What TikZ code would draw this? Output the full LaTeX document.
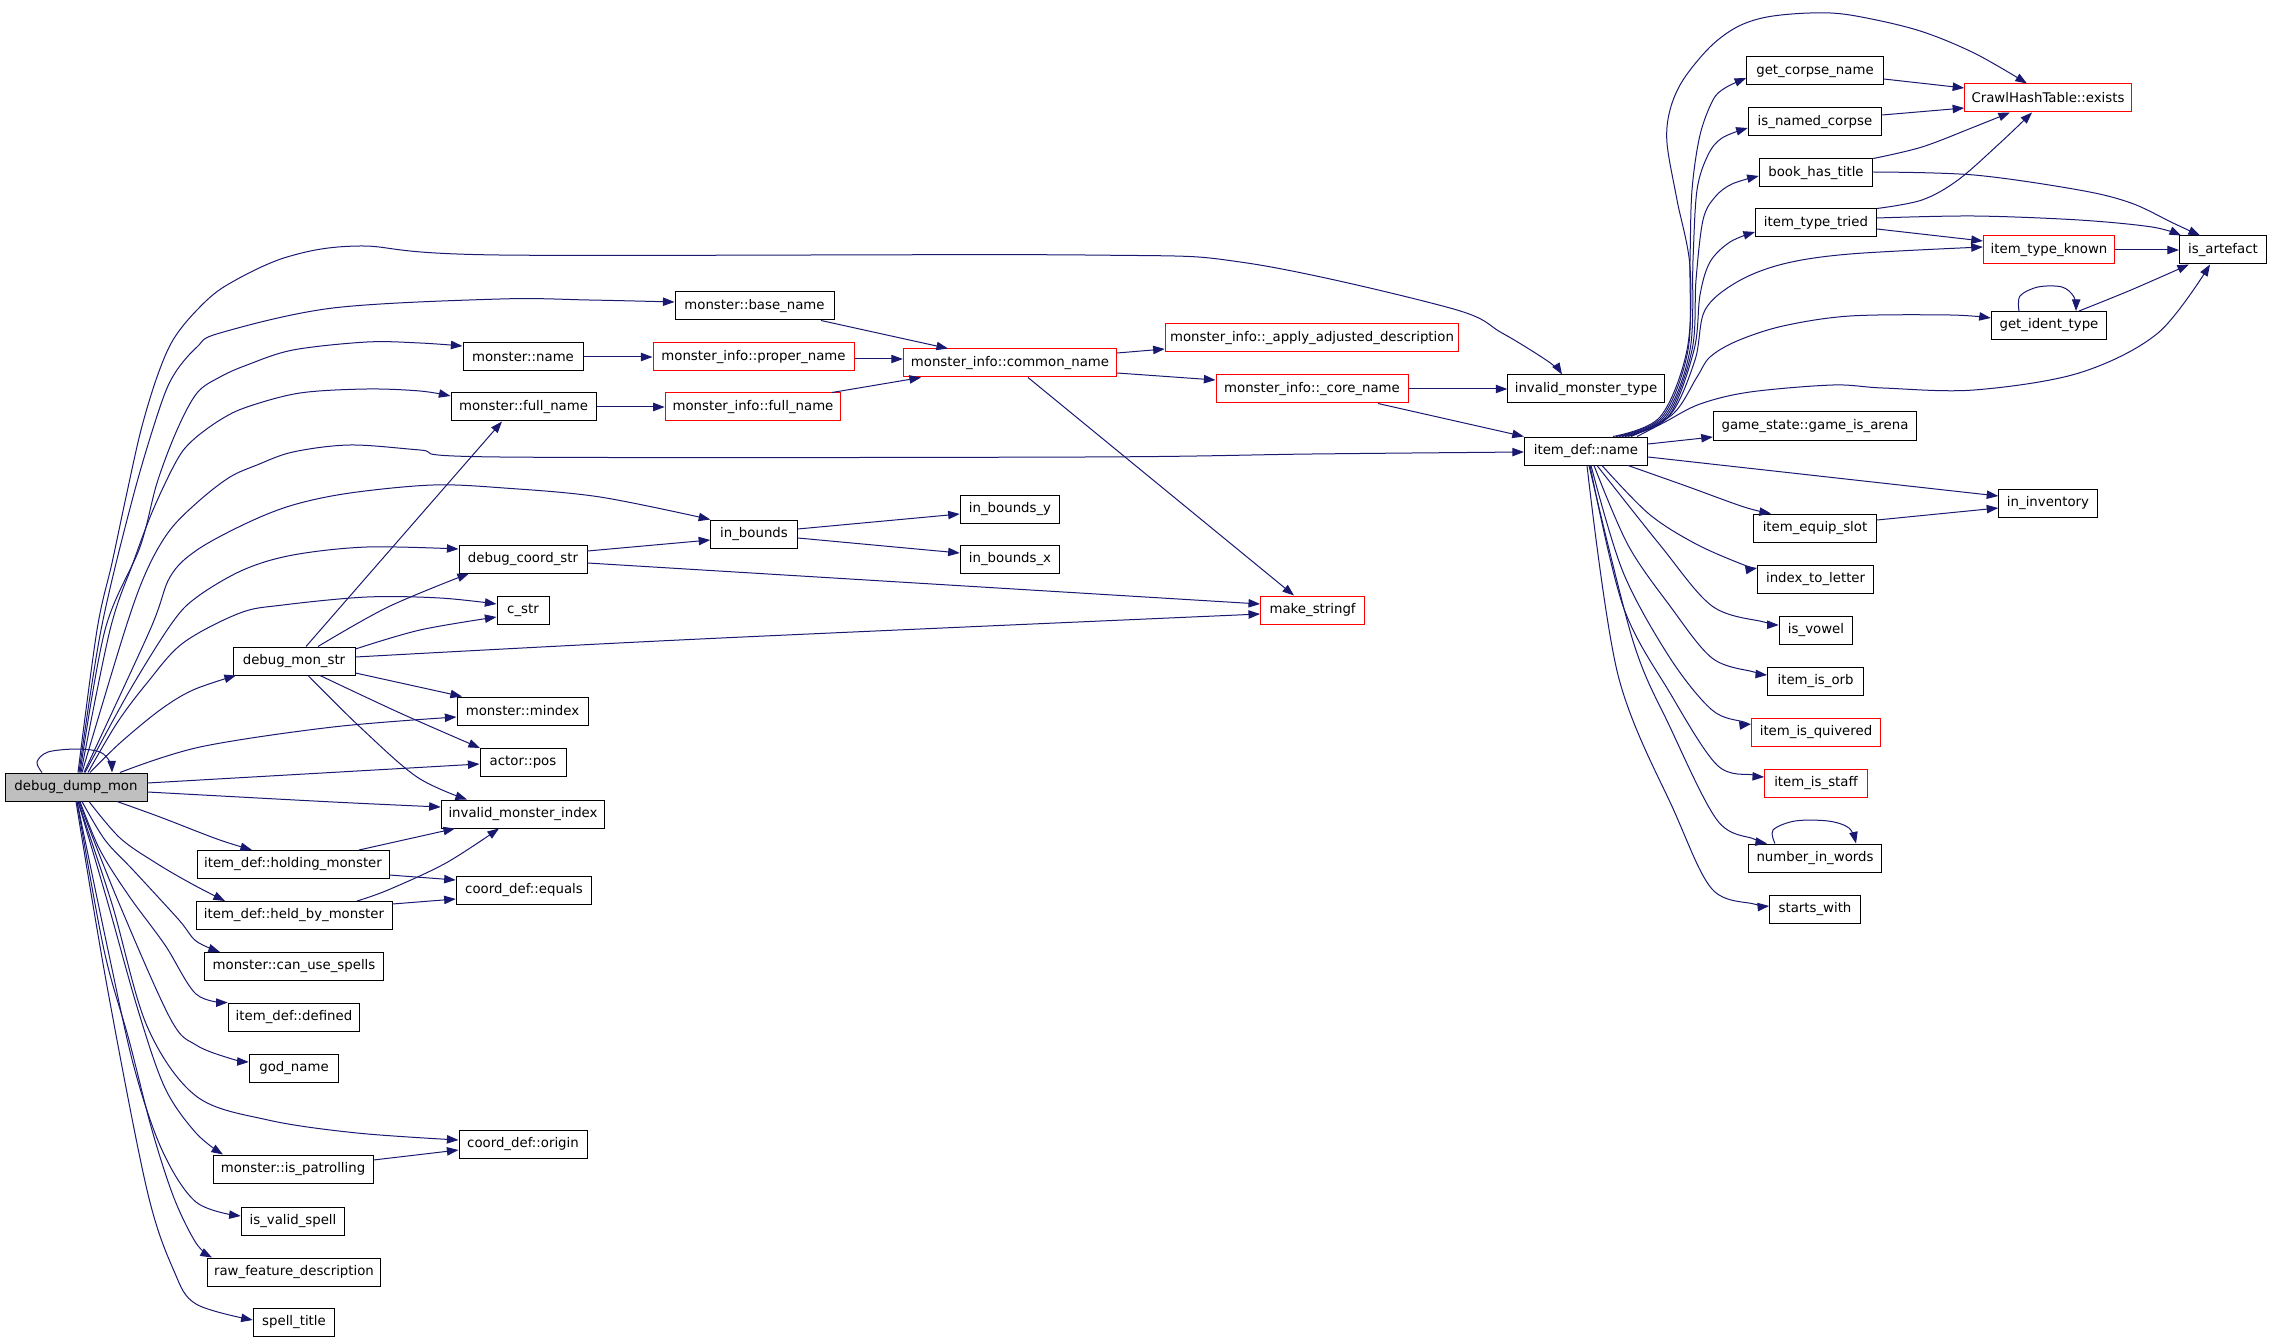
\documentclass[tikz,border=0pt]{standalone}
\usepackage{fontspec}
\setmainfont{DejaVu Sans}
\usetikzlibrary{arrows.meta}
\definecolor{edgeblue}{HTML}{191970}
\definecolor{nodegray}{HTML}{BFBFBF}
\newcommand\gvfont{\fontsize{6.65}{8}\selectfont}
\tikzset{
  box/.style={draw=black, rectangle, minimum height=14pt, inner sep=0pt, line width=0.5pt, font=\gvfont},
  redbox/.style={box, draw=red},
  edge/.style={draw=edgeblue, line width=0.5pt, -{Triangle[length=5.8pt,width=4.2pt]}},
  sm/.style={smooth, tension=0.55}
}
\begin{document}
\begin{tikzpicture}[x=0.5pt,y=-0.5pt]
\useasboundingbox (0,0) rectangle (2272,1337);
% ---- nodes ----
\node[box, fill=nodegray, minimum width=71pt] (ddm) at (76,787) {debug\_dump\_mon};
\node[box, minimum width=61pt] (dms) at (294,661) {debug\_mon\_str};
\node[box, minimum width=79.5pt] (mbn) at (754.5,306) {monster::base\_name};
\node[box, minimum width=60pt] (mn) at (523,357) {monster::name};
\node[box, minimum width=72.5pt] (mfn) at (523.5,407) {monster::full\_name};
\node[box, minimum width=64pt] (dcs) at (523,559) {debug\_coord\_str};
\node[box, minimum width=26pt] (cstr) at (523,610) {c\_str};
\node[box, minimum width=65.5pt] (mindex) at (522.5,711) {monster::mindex};
\node[box, minimum width=43pt] (apos) at (523,762.5) {actor::pos};
\node[box, minimum width=81.75pt] (imi) at (523,814) {invalid\_monster\_index};
\node[box, minimum width=96pt] (ihm) at (293,864.5) {item\_def::holding\_monster};
\node[box, minimum width=67.75pt] (cde) at (524,890) {coord\_def::equals};
\node[box, minimum width=98pt] (ihbm) at (294,915.5) {item\_def::held\_by\_monster};
\node[box, minimum width=89.75pt] (mcus) at (294,966.5) {monster::can\_use\_spells};
\node[box, minimum width=65.75pt] (idd) at (294,1017) {item\_def::defined};
\node[box, minimum width=44.75pt] (god) at (294,1068) {god\_name};
\node[box, minimum width=64pt] (cdo) at (523,1144.5) {coord\_def::origin};
\node[box, minimum width=80pt] (mip) at (293,1169) {monster::is\_patrolling};
\node[box, minimum width=51.75pt] (ivs) at (293,1221) {is\_valid\_spell};
\node[box, minimum width=86.25pt] (rfd) at (294,1272) {raw\_feature\_description};
\node[box, minimum width=40.75pt] (st) at (294,1322.5) {spell\_title};
\node[redbox, minimum width=100.5pt] (mipn) at (753.5,357) {monster\_info::proper\_name};
\node[redbox, minimum width=87.8pt] (mifn) at (753,407) {monster\_info::full\_name};
\node[redbox, minimum width=106.65pt] (micn) at (1010,363) {monster\_info::common\_name};
\node[redbox, minimum width=146.75pt] (miad) at (1312,338) {monster\_info::\_apply\_adjusted\_description};
\node[redbox, minimum width=96pt] (micore) at (1312,389) {monster\_info::\_core\_name};
\node[box, minimum width=43.25pt] (ib) at (754,534) {in\_bounds};
\node[box, minimum width=49.75pt] (iby) at (1010,509) {in\_bounds\_y};
\node[box, minimum width=49.75pt] (ibx) at (1010,559) {in\_bounds\_x};
\node[redbox, minimum width=52pt] (mks) at (1312.6,610) {make\_stringf};
\node[box, minimum width=78.15pt] (imt) at (1586,389) {invalid\_monster\_type};
\node[box, minimum width=61.6pt] (idn) at (1586,451) {item\_def::name};
\node[box, minimum width=68.3pt] (gcn) at (1815,71) {get\_corpse\_name};
\node[redbox, minimum width=83.25pt] (che) at (2048,98) {CrawlHashTable::exists};
\node[box, minimum width=66.75pt] (inc) at (1815,122) {is\_named\_corpse};
\node[box, minimum width=56.75pt] (bht) at (1816,173) {book\_has\_title};
\node[box, minimum width=60.5pt] (itt) at (1816,223) {item\_type\_tried};
\node[redbox, minimum width=65.65pt] (itk) at (2049,250) {item\_type\_known};
\node[box, minimum width=43.5pt] (isa) at (2223,250) {is\_artefact};
\node[box, minimum width=57.7pt] (git) at (2049,325.5) {get\_ident\_type};
\node[box, minimum width=101.65pt] (gsa) at (1815,426) {game\_state::game\_is\_arena};
\node[box, minimum width=49.2pt] (inv) at (2048,503) {in\_inventory};
\node[box, minimum width=61.6pt] (ies) at (1815,528) {item\_equip\_slot};
\node[box, minimum width=58pt] (itl) at (1815.6,579) {index\_to\_letter};
\node[box, minimum width=36.8pt] (iv) at (1816,630.5) {is\_vowel};
\node[box, minimum width=48pt] (iio) at (1815.6,681) {item\_is\_orb};
\node[redbox, minimum width=64.5pt] (iiq) at (1816,732) {item\_is\_quivered};
\node[redbox, minimum width=51.4pt] (iis) at (1816,783.5) {item\_is\_staff};
\node[box, minimum width=66.75pt] (niw) at (1815,858) {number\_in\_words};
\node[box, minimum width=45.35pt] (sw) at (1815,909) {starts\_with};
% ---- edges from debug_dump_mon (upwards) ----
\draw[edge] plot[sm] coordinates {(ddm.north -| 42,0) (37,762) (48,752) (77,749) (100,752) (110,762) (ddm.north -| 112,0)};
\draw[edge] plot[sm] coordinates {(ddm.north -| 78,0) (97,630) (112,563) (126,497) (141,430) (157,377) (173,340) (197,310) (227,285) (287,257) (360,246) (499,255) (1085,255) (1247,263) (1450,308) (1502,333) (1549,362) (imt.north -| 1562,0)};
\draw[edge] plot[sm] coordinates {(ddm.north -| 79,0) (101,630) (133,497) (160,407) (175,373) (197,347) (220,333) (333,308) (500,299) (589,300) (mbn.west |- 0,302)};
\draw[edge] plot[sm] coordinates {(ddm.north -| 80,0) (105,630) (140,547) (157,483) (177,430) (197,393) (220,377) (247,365) (293,350) (367,342) (420,343) (mn.west |- 0,346)};
\draw[edge] plot[sm] coordinates {(ddm.north -| 81,0) (110,630) (133,563) (153,510) (177,460) (193,440) (220,420) (247,407) (300,393) (367,389) (420,391) (mfn.west |- 0,396)};
\draw[edge] plot[sm] coordinates {(ddm.north -| 82,0) (125,630) (147,570) (170,530) (200,500) (230,477) (257,465) (293,452) (350,445) (420,450) (500,457) (1085,457) (1312,454) (idn.west |- 0,452)};
\draw[edge] plot[sm] coordinates {(ddm.north -| 84,0) (150,630) (170,577) (197,550) (247,523) (293,505) (350,493) (433,485) (504,488) (600,497) (ib.north west)};
\draw[edge] plot[sm] coordinates {(ddm.north -| 85,0) (130,690) (172,623) (197,597) (243,570) (293,555) (367,547) (dcs.west |- 0,549)};
\draw[edge] plot[sm] coordinates {(ddm.north -| 88,0) (117,723) (147,683) (183,643) (240,613) (283,605) (367,597) (440,598) (cstr.west |- 0,604)};
\draw[edge] plot[sm] coordinates {(ddm.north -| 90,0) (120,743) (160,710) (193,690) (dms.south -| 236,0)};
\draw[edge] plot[sm] coordinates {(ddm.north -| 120,0) (200,747) (333,727) (mindex.west |- 0,717)};
\draw[edge] (ddm.east |- 0,783) -- (apos.west |- 0,764);
\draw[edge] plot[sm] coordinates {(ddm.east |- 0,792) (333,802) (imi.west |- 0,807)};
% ---- edges from debug_dump_mon (downwards) ----
\draw[edge] plot[sm] coordinates {(ddm.south -| 117,0) (160,817) (217,839) (ihm.north -| 252,0)};
\draw[edge] plot[sm] coordinates {(ddm.south -| 89,0) (120,838) (156,863) (192,884) (ihbm.north -| 225,0)};
\draw[edge] plot[sm] coordinates {(ddm.south -| 82,0) (105,840) (134,871) (179,920) (196,941) (mcus.north -| 220,0)};
\draw[edge] plot[sm] coordinates {(ddm.south -| 80,0) (100,850) (129,896) (165,945) (196,994) (idd.north west)};
\draw[edge] plot[sm] coordinates {(ddm.south -| 79,0) (116,896) (170,1018) (196,1045) (232,1059) (god.west |- 0,1062)};
\draw[edge] plot[sm] coordinates {(ddm.south -| 78,0) (112,904) (147,1026) (196,1096) (268,1120) (357,1133) (cdo.west |- 0,1140)};
\draw[edge] plot[sm] coordinates {(ddm.south -| 78,0) (107,900) (138,1010) (165,1088) (196,1133) (mip.north -| 223,0)};
\draw[edge] plot[sm] coordinates {(ddm.south -| 77,0) (108,950) (134,1067) (162,1150) (196,1202) (ivs.west |- 0,1216)};
\draw[edge] plot[sm] coordinates {(ddm.south -| 77,0) (104,950) (129,1040) (152,1130) (174,1198) (196,1243) (rfd.north -| 212,0)};
\draw[edge] plot[sm] coordinates {(ddm.south -| 76,0) (107,986) (147,1190) (174,1271) (196,1304) (st.west |- 0,1320)};
% ---- debug_mon_str ----
\draw[edge] (dms.north -| 306,0) -- (mfn.south -| 502,0);
\draw[edge] plot[sm] coordinates {(dms.north -| 318,0) (388,607) (dcs.south -| 469,0)};
\draw[edge] plot[sm] coordinates {(dms.east |- 0,649) (420,630) (cstr.west |- 0,617)};
\draw[edge] plot[sm] coordinates {(dms.east |- 0,657) (700,639) (mks.west |- 0,614)};
\draw[edge] (dms.east |- 0,673) -- (mindex.north -| 462,0);
\draw[edge] plot[sm] coordinates {(dms.south -| 320,0) (400,713) (apos.north -| 480,0)};
\draw[edge] plot[sm] coordinates {(dms.south -| 308,0) (360,727) (417,777) (imi.north -| 467,0)};
% ---- middle ----
\draw[edge] (dcs.east |- 0,551) -- (ib.west |- 0,540);
\draw[edge] (dcs.east |- 0,563) -- (mks.west |- 0,604);
\draw[edge] (ib.east |- 0,529) -- (iby.west |- 0,514);
\draw[edge] (ib.east |- 0,538) -- (ibx.west |- 0,553);
\draw[edge] (mn.east) -- (mipn.west);
\draw[edge] (mfn.east) -- (mifn.west);
\draw[edge] (mbn.south -| 821,0) -- (micn.north -| 948,0);
\draw[edge] (mipn.east |- 0,359) -- (micn.west |- 0,359);
\draw[edge] (mifn.north -| 832,0) -- (micn.south -| 921,0);
\draw[edge] (micn.east |- 0,353) -- (miad.west |- 0,349);
\draw[edge] (micn.east |- 0,373) -- (micore.west |- 0,380);
\draw[edge] (micn.south -| 1028,0) -- (mks.north -| 1294,0);
\draw[edge] (micore.east) -- (imt.west);
\draw[edge] (micore.south -| 1378,0) -- (idn.north west);
\draw[edge] (ihm.north -| 359,0) -- (imi.south -| 455,0);
\draw[edge] (ihm.east |- 0,875) -- (cde.west |- 0,880);
\draw[edge] plot[sm] coordinates {(ihbm.north -| 357,0) (388,890) (446,863) (imi.south -| 499,0)};
\draw[edge] (ihbm.east |- 0,904) -- (cde.west |- 0,899);
\draw[edge] (mip.east |- 0,1160) -- (cdo.west |- 0,1150);
% ---- item_def::name ----
\draw[edge] plot[sm] coordinates {(idn.north -| 1613,0) (1660,417) (1687,350) (1690,267) (1677,200) (1667,143) (1670,110) (1683,80) (1710,47) (1737,27) (1767,17) (1810,13) (1850,15) (1917,30) (1974,53) (che.north -| 2027,0)};
\draw[edge] plot[sm] coordinates {(idn.north -| 1616,0) (1662,417) (1688,350) (1690,260) (1692,190) (1700,135) (1713,100) (1725,88) (gcn.west |- 0,78)};
\draw[edge] plot[sm] coordinates {(idn.north -| 1619,0) (1664,417) (1690,350) (1693,260) (1697,190) (1708,155) (1722,138) (inc.west |- 0,128)};
\draw[edge] plot[sm] coordinates {(idn.north -| 1622,0) (1666,417) (1692,350) (1696,280) (1703,220) (1715,197) (1732,184) (bht.west |- 0,176)};
\draw[edge] plot[sm] coordinates {(idn.north -| 1625,0) (1668,417) (1694,350) (1700,295) (1710,262) (1730,242) (itt.west |- 0,232)};
\draw[edge] plot[sm] coordinates {(idn.north -| 1628,0) (1670,415) (1695,360) (1705,310) (1737,282) (1783,264) (1850,254) (itk.west |- 0,247)};
\draw[edge] plot[sm] coordinates {(idn.north -| 1631,0) (1673,414) (1697,377) (1710,357) (1737,341) (1783,326) (1850,316) (1950,315) (git.west |- 0,318)};
\draw[edge] plot[sm] coordinates {(idn.north -| 1637,0) (1665,422) (1700,404) (1750,392) (1833,385) (1883,388) (1974,390) (2079,373) (2158,333) (isa.south -| 2210,0)};
\draw[edge] (idn.east |- 0,444) -- (gsa.west |- 0,437);
\draw[edge] (idn.east |- 0,457) -- (inv.west |- 0,496);
\draw[edge] plot[sm] coordinates {(idn.south -| 1628,0) (1686,486) (1744,507) (ies.north -| 1771,0)};
\draw[edge] plot[sm] coordinates {(idn.south -| 1602,0) (1649,514) (1696,544) (1744,565) (itl.west |- 0,568)};
\draw[edge] plot[sm] coordinates {(idn.south -| 1597,0) (1660,545) (1712,606) (1764,622) (iv.west |- 0,625)};
\draw[edge] plot[sm] coordinates {(idn.south -| 1594,0) (1628,545) (1670,606) (1712,658) (1754,672) (iio.west |- 0,675)};
\draw[edge] plot[sm] coordinates {(idn.south -| 1591,0) (1623,572) (1670,658) (1712,710) (1744,722) (iiq.west |- 0,724)};
\draw[edge] plot[sm] coordinates {(idn.south -| 1590,0) (1623,606) (1670,693) (1717,765) (1754,775) (iis.west |- 0,777)};
\draw[edge] plot[sm] coordinates {(idn.south -| 1589,0) (1633,641) (1670,727) (1717,820) (1754,839) (niw.north -| 1767,0)};
\draw[edge] plot[sm] coordinates {(idn.south -| 1587,0) (1618,675) (1675,813) (1712,889) (1754,904) (sw.west |- 0,906)};
% ---- right side ----
\draw[edge] (gcn.east |- 0,79) -- (che.west |- 0,88);
\draw[edge] (inc.east |- 0,115) -- (che.west |- 0,108);
\draw[edge] plot[sm] coordinates {(bht.north east) (1922,147) (1974,127) (che.south -| 2010,0)};
\draw[edge] plot[sm] coordinates {(bht.east |- 0,172) (1974,175) (2079,190) (2131,203) (2173,223) (isa.north -| 2200,0)};
\draw[edge] plot[sm] coordinates {(itt.north east) (1922,200) (1958,180) (2000,143) (che.south -| 2032,0)};
\draw[edge] plot[sm] coordinates {(itt.east |- 0,218) (1974,216) (2079,220) (2152,227) (isa.north -| 2181,0)};
\draw[edge] (itt.east |- 0,229) -- (itk.west |- 0,241);
\draw[edge] (itk.east) -- (isa.west);
\draw[edge] plot[sm] coordinates {(git.north -| 2079,0) (2131,290) (isa.south -| 2189,0)};
\draw[edge] plot[sm] coordinates {(git.north -| 2019,0) (2020,296) (2038,287) (2062,287) (2074,297) (git.north -| 2076,0)};
\draw[edge] (ies.east |- 0,520) -- (inv.west |- 0,508);
\draw[edge] plot[sm] coordinates {(niw.north -| 1775,0) (1773,830) (1795,821) (1828,821) (1849,828) (niw.north -| 1856,0)};
\end{tikzpicture}
\end{document}
